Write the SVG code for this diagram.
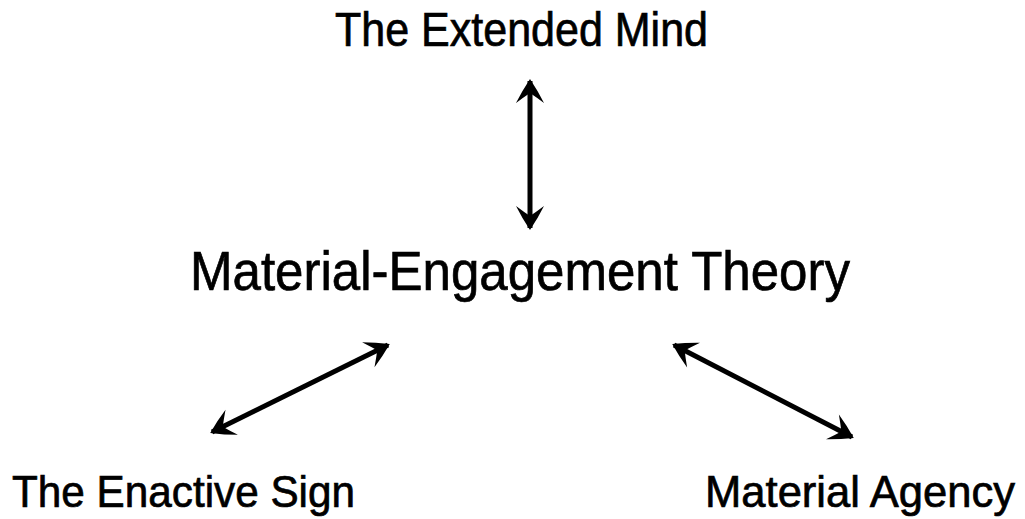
<svg xmlns="http://www.w3.org/2000/svg" width="1025" height="519" viewBox="0 0 1025 519">
  <defs>
    <style>
      .label { font-family: "Liberation Sans", Arial, sans-serif; fill: #000; stroke: #000; stroke-width: 0.7; }
      .link { stroke: #000; stroke-width: 5; fill: none; marker-start: url(#head); marker-end: url(#head); }
    </style>
    <!-- barbed arrowhead, tip at the path end -->
    <marker id="head" viewBox="-26 -16 28 32" refX="-2" refY="0" markerWidth="28" markerHeight="32" markerUnits="userSpaceOnUse" orient="auto-start-reverse">
      <path d="M0,0 Q-12,-8 -24,-14 Q-18,-6 -14,0 Q-18,6 -24,14 Q-12,8 0,0 Z" fill="#000"/>
    </marker>
  </defs>
  <rect width="1025" height="519" fill="#fff"/>

  <g id="connectors">
    <line class="link" x1="530" y1="81" x2="530" y2="228"/>
    <line class="link" x1="388" y1="345" x2="212" y2="432"/>
    <line class="link" x1="674" y1="345" x2="852" y2="437"/>
  </g>

  <g id="extended-mind">
    <text class="label" x="335" y="46" font-size="48" textLength="373" lengthAdjust="spacingAndGlyphs">The Extended Mind</text>
  </g>
  <g id="material-engagement-theory">
    <text class="label" x="190" y="290" font-size="56" textLength="660" lengthAdjust="spacingAndGlyphs">Material-Engagement Theory</text>
  </g>
  <g id="enactive-sign">
    <text class="label" x="12" y="507" font-size="45" textLength="343" lengthAdjust="spacingAndGlyphs">The Enactive Sign</text>
  </g>
  <g id="material-agency">
    <text class="label" x="705" y="507" font-size="45" textLength="310" lengthAdjust="spacingAndGlyphs">Material Agency</text>
  </g>
</svg>
